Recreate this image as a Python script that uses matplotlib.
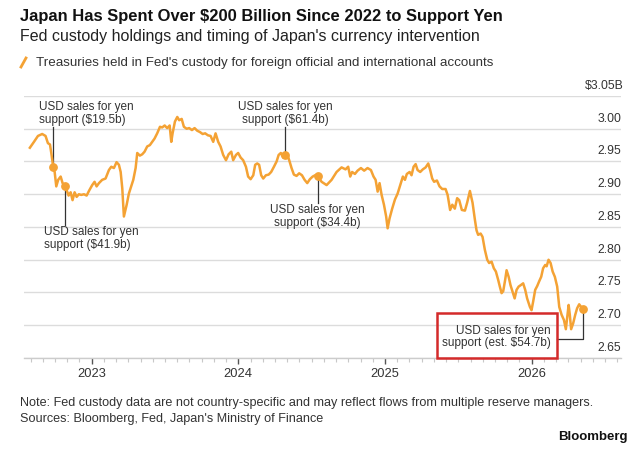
import numpy as np
import matplotlib.pyplot as plt
from matplotlib.lines import Line2D
from matplotlib.patches import Rectangle

plt.rcParams['font.family'] = ['Liberation Sans', 'DejaVu Sans']

# weekly Fed custody holdings (USD trillions), x in decimal years
years = [2022.579, 2022.607, 2022.634, 2022.663, 2022.686, 2022.702, 2022.716, 2022.725, 2022.738, 2022.748,
         2022.759, 2022.772, 2022.789, 2022.802, 2022.816, 2022.830, 2022.843, 2022.857, 2022.870, 2022.884,
         2022.898, 2022.913, 2022.929, 2022.948, 2022.966, 2022.984, 2023.004, 2023.020, 2023.034, 2023.050,
         2023.072, 2023.095, 2023.118, 2023.134, 2023.152, 2023.170, 2023.186, 2023.198, 2023.209, 2023.220,
         2023.239, 2023.254, 2023.270, 2023.284, 2023.300, 2023.311, 2023.329, 2023.345, 2023.361, 2023.379,
         2023.397, 2023.413, 2023.429, 2023.447, 2023.466, 2023.481, 2023.498, 2023.515, 2023.532, 2023.543,
         2023.552, 2023.568, 2023.584, 2023.597, 2023.614, 2023.629, 2023.648, 2023.665, 2023.684, 2023.702,
         2023.720, 2023.738, 2023.757, 2023.774, 2023.793, 2023.811, 2023.829, 2023.845, 2023.863, 2023.879,
         2023.897, 2023.916, 2023.934, 2023.952, 2023.965, 2023.984, 2023.999, 2024.016, 2024.033, 2024.052,
         2024.067, 2024.084, 2024.102, 2024.115, 2024.129, 2024.142, 2024.156, 2024.170, 2024.188, 2024.207,
         2024.224, 2024.243, 2024.261, 2024.275, 2024.290, 2024.306, 2024.318, 2024.333, 2024.347, 2024.363,
         2024.379, 2024.397, 2024.415, 2024.434, 2024.452, 2024.470, 2024.488, 2024.507, 2024.524, 2024.541,
         2024.568, 2024.602, 2024.636, 2024.670, 2024.704, 2024.731, 2024.749, 2024.763, 2024.776, 2024.795,
         2024.813, 2024.836, 2024.858, 2024.881, 2024.904, 2024.922, 2024.936, 2024.950, 2024.963, 2024.977,
         2024.993, 2025.008, 2025.018, 2025.031, 2025.049, 2025.068, 2025.086, 2025.104, 2025.122, 2025.136,
         2025.149, 2025.168, 2025.181, 2025.195, 2025.209, 2025.222, 2025.240, 2025.258, 2025.277, 2025.295,
         2025.308, 2025.322, 2025.335, 2025.354, 2025.372, 2025.390, 2025.413, 2025.427, 2025.444, 2025.459,
         2025.476, 2025.492, 2025.506, 2025.524, 2025.545, 2025.560, 2025.579, 2025.597, 2025.613, 2025.624,
         2025.635, 2025.652, 2025.665, 2025.681, 2025.697, 2025.710, 2025.727, 2025.742, 2025.756, 2025.772,
         2025.783, 2025.795, 2025.806, 2025.819, 2025.829, 2025.843, 2025.856, 2025.870, 2025.884, 2025.897,
         2025.911, 2025.924, 2025.942, 2025.956, 2025.969, 2025.988, 2025.999, 2026.010, 2026.024, 2026.038,
         2026.051, 2026.065, 2026.078, 2026.092, 2026.102, 2026.115, 2026.129, 2026.143, 2026.158, 2026.174,
         2026.188, 2026.204, 2026.220, 2026.233, 2026.242, 2026.252, 2026.260, 2026.269, 2026.283, 2026.297,
         2026.310, 2026.324, 2026.337, 2026.351]

holdings = [2.971, 2.980, 2.989, 2.992, 2.989, 2.978, 2.976, 2.963, 2.942, 2.934,
            2.912, 2.922, 2.927, 2.917, 2.913, 2.906, 2.898, 2.903, 2.891, 2.903,
            2.896, 2.900, 2.899, 2.900, 2.898, 2.906, 2.914, 2.919, 2.912, 2.917,
            2.922, 2.924, 2.937, 2.942, 2.940, 2.949, 2.945, 2.934, 2.909, 2.866,
            2.884, 2.901, 2.912, 2.922, 2.940, 2.963, 2.959, 2.961, 2.965, 2.973,
            2.975, 2.980, 2.985, 2.993, 3.003, 3.002, 3.005, 3.001, 3.005, 2.980,
            2.993, 3.011, 3.018, 3.013, 3.015, 3.003, 3.000, 3.001, 2.998, 3.001,
            2.997, 2.995, 2.992, 2.993, 2.990, 2.989, 2.980, 2.993, 2.980, 2.973,
            2.960, 2.952, 2.961, 2.965, 2.952, 2.960, 2.963, 2.956, 2.952, 2.942,
            2.927, 2.923, 2.929, 2.945, 2.947, 2.945, 2.929, 2.924, 2.929, 2.930,
            2.934, 2.942, 2.950, 2.960, 2.963, 2.956, 2.960, 2.961, 2.952, 2.940,
            2.930, 2.928, 2.932, 2.929, 2.922, 2.917, 2.923, 2.927, 2.929, 2.928,
            2.919, 2.914, 2.922, 2.934, 2.941, 2.938, 2.942, 2.927, 2.934, 2.931,
            2.936, 2.940, 2.936, 2.940, 2.937, 2.927, 2.922, 2.904, 2.917, 2.899,
            2.884, 2.866, 2.848, 2.863, 2.878, 2.892, 2.901, 2.914, 2.927, 2.922,
            2.931, 2.934, 2.929, 2.942, 2.946, 2.937, 2.934, 2.938, 2.941, 2.947,
            2.937, 2.924, 2.919, 2.921, 2.912, 2.908, 2.908, 2.899, 2.876, 2.884,
            2.878, 2.894, 2.891, 2.876, 2.875, 2.887, 2.905, 2.887, 2.861, 2.845,
            2.838, 2.840, 2.835, 2.815, 2.800, 2.795, 2.797, 2.787, 2.782, 2.769,
            2.759, 2.749, 2.752, 2.769, 2.784, 2.774, 2.761, 2.751, 2.741, 2.754,
            2.759, 2.761, 2.764, 2.754, 2.741, 2.728, 2.723, 2.736, 2.754, 2.760,
            2.767, 2.774, 2.787, 2.792, 2.790, 2.800, 2.795, 2.782, 2.774, 2.759,
            2.728, 2.716, 2.708, 2.694, 2.711, 2.731, 2.716, 2.694, 2.703, 2.716,
            2.726, 2.732, 2.728, 2.725]

# intervention events
event_x = [2022.738, 2022.816, 2024.318, 2024.541, 2026.351]
event_y = [2.942, 2.913, 2.960, 2.928, 2.725]
event_labels = ['USD sales for yen\nsupport ($19.5b)',
                'USD sales for yen\nsupport ($41.9b)',
                'USD sales for yen\nsupport ($61.4b)',
                'USD sales for yen\nsupport ($34.4b)',
                'USD sales for yen\nsupport (est. $54.7b)']

ytick_vals = [3.05, 3.00, 2.95, 2.90, 2.85, 2.80, 2.75, 2.70, 2.65]
ytick_labels = ['$3.05B', '3.00', '2.95', '2.90', '2.85', '2.80', '2.75', '2.70', '2.65']
xtick_vals = [2023, 2024, 2025, 2026]

orange = '#f4a234'
dark = '#333333'

fig = plt.figure(figsize=(6.43, 4.57), dpi=100)
ax = fig.add_axes([24 / 643, 1 - 358 / 457, 597 / 643, 262 / 457])
ax.set_xlim(2022.539, 2026.609)
ax.set_ylim(2.65, 3.05)

for s in ['top', 'left', 'right']:
    ax.spines[s].set_visible(False)
ax.spines['bottom'].set_color('#cccccc')
ax.spines['bottom'].set_linewidth(1)

ax.set_yticks(ytick_vals)
ax.yaxis.grid(True, color='#dcdcdc', lw=1)
ax.tick_params(axis='y', length=0, labelleft=False)
for v, lab in zip(ytick_vals, ytick_labels):
    dx = 2.2 if lab.endswith('B') else 0
    ax.annotate(lab, xy=(1, v), xycoords=ax.get_yaxis_transform(), xytext=(dx, 7.3),
                textcoords='offset points', ha='right', va='center', fontsize=8.8, color=dark)

ax.set_xticks(xtick_vals)
ax.set_xticklabels([str(x) for x in xtick_vals])
ax.set_xticks(np.arange(2022 + 7 / 12, 2026.6, 1 / 12), minor=True)
ax.tick_params(axis='x', which='major', length=4, width=1, color='#555555', pad=3,
               labelsize=9.3, labelcolor=dark)
ax.tick_params(axis='x', which='minor', length=3, width=0.8, color='#c8c8c8')

ax.plot(years, holdings, color=orange, lw=1.8, solid_joinstyle='round', zorder=3)
ax.scatter(event_x, event_y, s=28, color=orange, zorder=4)

# annotation leaders and labels
ann_kw = dict(fontsize=8.5, color=dark, linespacing=1.1)
ax.plot([event_x[0]] * 2, [event_y[0], 3.003], color=dark, lw=0.9, zorder=2)
ax.text(2022.643, 3.004, event_labels[0], ha='left', va='bottom', **ann_kw)
ax.plot([event_x[1]] * 2, [event_y[1], 2.853], color=dark, lw=0.9, zorder=2)
ax.text(2022.677, 2.852, event_labels[1], ha='left', va='top', **ann_kw)
ax.plot([event_x[2]] * 2, [event_y[2], 3.003], color=dark, lw=0.9, zorder=2)
ax.text(event_x[2], 3.004, event_labels[2], ha='center', va='bottom', **ann_kw)
ax.plot([event_x[3]] * 2, [event_y[3], 2.886], color=dark, lw=0.9, zorder=2)
ax.text(event_x[3], 2.885, event_labels[3], ha='center', va='top', **ann_kw)
ax.plot([event_x[4], event_x[4], 2026.170], [event_y[4], 2.679, 2.679], color=dark, lw=0.9, zorder=2)
ax.text(2026.132, 2.682, event_labels[4], ha='right', va='center', multialignment='right', **ann_kw)
ax.add_patch(Rectangle((2025.352, 2.650), 2026.175 - 2025.352, 2.718 - 2.650, fill=False,
                       edgecolor='#d42a2a', lw=1.8, clip_on=False, zorder=5))

# header
fig.text(20 / 643, 1 - 17 / 457, 'Japan Has Spent Over $200 Billion Since 2022 to Support Yen',
         fontsize=11.9, fontweight='bold', color='#111111', va='center', ha='left')
fig.text(20 / 643, 1 - 37 / 457, "Fed custody holdings and timing of Japan's currency intervention",
         fontsize=11.5, color='#222222', va='center', ha='left')
fig.add_artist(Line2D([21 / 643, 26 / 643], [1 - 67 / 457, 1 - 58 / 457], color=orange, lw=2))
fig.text(36 / 643, 1 - 63 / 457,
         "Treasuries held in Fed's custody for foreign official and international accounts",
         fontsize=9.6, color=dark, va='center', ha='left')

# footer
fig.text(20 / 643, 1 - 403 / 457,
         'Note: Fed custody data are not country-specific and may reflect flows from multiple reserve managers.',
         fontsize=9.1, color=dark, va='center', ha='left')
fig.text(20 / 643, 1 - 419 / 457, "Sources: Bloomberg, Fed, Japan's Ministry of Finance",
         fontsize=9.1, color=dark, va='center', ha='left')
fig.text(628 / 643, 1 - 437 / 457, 'Bloomberg', fontsize=9.5, fontweight='bold', color='#111111',
         va='center', ha='right')

fig.savefig('out.png', dpi=100)
